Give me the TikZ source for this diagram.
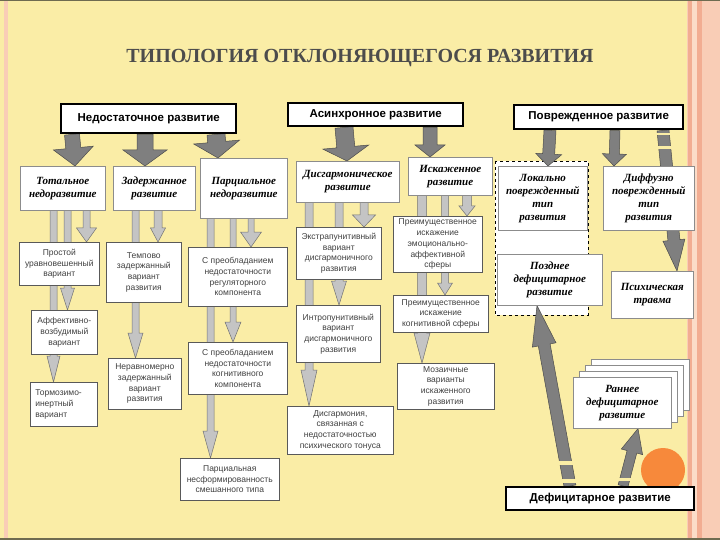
\documentclass[tikz,border=0pt]{standalone}
\usepackage{fontspec}
\setmainfont{Liberation Serif}
\newfontfamily\sansf{Liberation Sans}
\usetikzlibrary{calc}
\definecolor{bg}{HTML}{FAEDA6}
\definecolor{pinkA}{HTML}{F9CDB6}
\definecolor{pinkB}{HTML}{F2AD92}
\definecolor{pinkC}{HTML}{FBDCC8}
\definecolor{frame}{HTML}{6E6B50}
\definecolor{darkarr}{HTML}{7F7F7F}
\definecolor{lightarr}{HTML}{C4C4C4}
\definecolor{orangec}{HTML}{F7893B}
\newcommand\blockarr[6]{%
  \coordinate (ba-s) at (#2);
  \coordinate (ba-e) at (#3);
  \coordinate (ba-c) at ($(ba-e)!#6!(ba-s)$);
  \path[#1] ($(ba-s)!#4!90:(ba-e)$) -- ($(ba-c)!#4!90:(ba-e)$) -- ($(ba-c)!#5!90:(ba-e)$)
    -- (ba-e) -- ($(ba-c)!#5!-90:(ba-e)$) -- ($(ba-c)!#4!-90:(ba-e)$) -- ($(ba-s)!#4!-90:(ba-e)$) -- cycle;
}
\tikzset{
  darr/.style={fill=darkarr, draw=black!70, line width=0.5pt},
  larr/.style={fill=lightarr, draw=black!55, line width=0.5pt},
  headbox/.style={draw=black, line width=2.4pt, fill=white, anchor=north west, inner sep=0pt,
    font=\sansf\bfseries\fontsize{11.5}{13}\selectfont},
  midbox/.style={draw=black!45, line width=0.6pt, fill=white, anchor=north west, inner sep=0pt,
    align=center, font=\bfseries\itshape\fontsize{11}{13}\selectfont},
  lowbox/.style={draw=black!65, line width=0.6pt, fill=white, anchor=north west, inner sep=0pt,
    align=center, text=black!75, font=\sansf\fontsize{8.5}{10.7}\selectfont},
  sheet/.style={draw=black!45, line width=0.6pt, fill=white},
  ghost/.style={draw=none, fill=none}
}
\begin{document}
\begin{tikzpicture}[x=1pt,y=-1pt]
% background and frame
\fill[bg] (0,0) rectangle (720,540);
\useasboundingbox (0,0) rectangle (720,540);
\fill[pinkA] (4,0) rectangle (8,540);
\fill[pinkA] (687,0) rectangle (720,540);
\fill[pinkB] (688,0) rectangle (692,540);
\fill[pinkC] (692,0) rectangle (697,540);
\fill[pinkB] (697,0) rectangle (702,540);
\fill[frame] (0,0) rectangle (720,1.5);
\fill[frame] (0,537.5) rectangle (720,540);
% title
\node[text=black!70, font=\bfseries\fontsize{20}{24}\selectfont] (title) at (360,58)
  {ТИПОЛОГИЯ ОТКЛОНЯЮЩЕГОСЯ РАЗВИТИЯ};
% orange circle
\fill[orangec] (663,470) circle (22);
% dashed group box
\draw[dashed, black, line width=0.6pt, fill=white] (495,161) rectangle (588,315);

% ---- node frames (named, invisible) used as connector ends ----
\path
 (60,103) node[headbox, ghost, minimum width=175pt, minimum height=29pt] (ned) {}
 (287,102) node[headbox, ghost, minimum width=175pt, minimum height=23pt] (asy) {}
 (513,104) node[headbox, ghost, minimum width=169pt, minimum height=24pt] (pov) {}
 (505,486) node[headbox, ghost, minimum width=188pt, minimum height=23pt] (def) {};
\path
 (20,166) node[midbox, ghost, minimum width=85pt, minimum height=44pt] (tot) {}
 (113,166) node[midbox, ghost, minimum width=82pt, minimum height=44pt] (zad) {}
 (200,158) node[midbox, ghost, minimum width=87pt, minimum height=60pt] (par) {}
 (296,161) node[midbox, ghost, minimum width=103pt, minimum height=41pt] (dis) {}
 (408,157) node[midbox, ghost, minimum width=84pt, minimum height=38pt] (isk) {}
 (498,166) node[midbox, ghost, minimum width=89pt, minimum height=64pt] (lok) {}
 (603,166) node[midbox, ghost, minimum width=91pt, minimum height=64pt] (dif) {}
 (497,254) node[midbox, ghost, minimum width=105pt, minimum height=51pt] (poz) {}
 (611,271) node[midbox, ghost, minimum width=82pt, minimum height=47pt] (psy) {}
 (573,377) node[midbox, ghost, minimum width=98pt, minimum height=51pt] (ran) {};
\path
 (19,242) node[lowbox, ghost, minimum width=80pt, minimum height=43pt] (pro) {}
 (31,310) node[lowbox, ghost, minimum width=66pt, minimum height=44pt] (aff) {}
 (30,382) node[lowbox, ghost, minimum width=67pt, minimum height=44pt] (tor) {}
 (106,242) node[lowbox, ghost, minimum width=75pt, minimum height=60pt] (tem) {}
 (108,358) node[lowbox, ghost, minimum width=73pt, minimum height=51pt] (ner) {}
 (188,247) node[lowbox, ghost, minimum width=99pt, minimum height=59pt] (reg) {}
 (188,342) node[lowbox, ghost, minimum width=99pt, minimum height=52pt] (kog) {}
 (180,458) node[lowbox, ghost, minimum width=99pt, minimum height=42pt] (pns) {}
 (296,227) node[lowbox, ghost, minimum width=85pt, minimum height=52pt] (ext) {}
 (296,305) node[lowbox, ghost, minimum width=84pt, minimum height=57pt] (intr) {}
 (287,406) node[lowbox, ghost, minimum width=106pt, minimum height=48pt] (dton) {}
 (393,216) node[lowbox, ghost, minimum width=89pt, minimum height=56pt] (emo) {}
 (393,295) node[lowbox, ghost, minimum width=95pt, minimum height=37pt] (kogs) {}
 (397,363) node[lowbox, ghost, minimum width=97pt, minimum height=46pt] (moz) {};

% ---- dark block arrows ----
\blockarr{darr}{[xshift=12pt]ned.south west}{[xshift=55pt]tot.north west}{7.5pt}{20pt}{18pt}
\blockarr{darr}{[xshift=85pt]ned.south west}{[xshift=32pt]zad.north west}{8pt}{22pt}{16pt}
\blockarr{darr}{[xshift=156pt]ned.south west}{[xshift=18pt]par.north west}{9pt}{23pt}{16pt}
\blockarr{darr}{[xshift=57pt]asy.south west}{[xshift=51pt]dis.north west}{9pt}{23pt}{14pt}
\blockarr{darr}{[xshift=143pt]asy.south west}{[xshift=22pt]isk.north west}{7pt}{15pt}{12pt}
\blockarr{darr}{[xshift=37pt]pov.south west}{[xshift=50pt]lok.north west}{6pt}{13pt}{12pt}
\blockarr{darr}{[xshift=102pt]pov.south west}{[xshift=11pt]dif.north west}{5pt}{12pt}{12pt}
\blockarr{darr}{[xshift=150pt]pov.south west}{[xshift=66pt]psy.north west}{6pt}{11pt}{31pt}
\blockarr{darr}{[xshift=65pt]def.north west}{[xshift=40pt]poz.south west}{6pt}{12pt}{40pt}
\blockarr{darr}{[xshift=118pt]def.north west}{[xshift=65pt]ran.south west}{5pt}{11pt}{24pt}
% breaks in the dark shafts
\fill[bg] (650,133) rectangle (676,135.5);
\fill[bg] (650,146) rectangle (676,149);
\fill[bg] (555,461) rectangle (585,465);
\fill[bg] (555,479) rectangle (585,482.5);
\fill[bg] (610,477.5) rectangle (635,480.5);

% ---- light block arrows ----
\blockarr{larr}{[xshift=33.5pt]tot.south west}{[xshift=23.5pt]tor.north west}{3.5pt}{6.5pt}{26pt}
\blockarr{larr}{[xshift=47.5pt]tot.south west}{[xshift=36.5pt]aff.north west}{3.5pt}{7pt}{22pt}
\blockarr{larr}{[xshift=66.5pt]tot.south west}{[xshift=67.5pt]pro.north west}{3.5pt}{10pt}{14pt}
\blockarr{larr}{[xshift=22.5pt]zad.south west}{[xshift=27.5pt]ner.north west}{3.5pt}{7.5pt}{25pt}
\blockarr{larr}{[xshift=45pt]zad.south west}{[xshift=52pt]tem.north west}{4pt}{7.5pt}{14pt}
\blockarr{larr}{[xshift=10.5pt]par.south west}{[xshift=30.5pt]pns.north west}{3.5pt}{7.5pt}{27pt}
\blockarr{larr}{[xshift=33pt]par.south west}{[xshift=45pt]kog.north west}{3pt}{8pt}{20pt}
\blockarr{larr}{[xshift=51pt]par.south west}{[xshift=63pt]reg.north west}{3pt}{10.5pt}{15pt}
\blockarr{larr}{[xshift=13pt]dis.south west}{[xshift=22pt]dton.north west}{4pt}{8pt}{36pt}
\blockarr{larr}{[xshift=43pt]dis.south west}{[xshift=43pt]intr.north west}{4pt}{7.5pt}{24pt}
\blockarr{larr}{[xshift=68pt]dis.south west}{[xshift=68pt]ext.north west}{4pt}{11.5pt}{12pt}
\blockarr{larr}{[xshift=14pt]isk.south west}{[xshift=25pt]moz.north west}{4.5pt}{8pt}{30pt}
\blockarr{larr}{[xshift=37pt]isk.south west}{[xshift=52pt]kogs.north west}{3.5pt}{7.5pt}{12pt}
\blockarr{larr}{[xshift=59pt]isk.south west}{[xshift=74pt]emo.north west}{4.5pt}{8pt}{10pt}

% ---- boxes drawn on top ----
\node[headbox, minimum width=175pt, minimum height=29pt] at (60,103) {Недостаточное развитие};
\node[headbox, minimum width=175pt, minimum height=23pt] at (287,102) {Асинхронное развитие};
\node[headbox, minimum width=169pt, minimum height=24pt] at (513,104) {Поврежденное развитие};
\node[headbox, minimum width=188pt, minimum height=23pt] at (505,486) {Дефицитарное развитие};

\node[midbox, minimum width=85pt, minimum height=44pt] at (20,166) {Тотальное\\недоразвитие};
\node[midbox, minimum width=82pt, minimum height=44pt] at (113,166) {Задержанное\\развитие};
\node[midbox, minimum width=87pt, minimum height=60pt] at (200,158) {Парциальное\\недоразвитие};
\node[midbox, minimum width=103pt, minimum height=41pt] at (296,161) {Дисгармоническое\\развитие};
\node[midbox, minimum width=84pt, minimum height=38pt] at (408,157) {Искаженное\\развитие};
\node[midbox, minimum width=89pt, minimum height=64pt] at (498,166) {Локально\\поврежденный\\тип\\развития};
\node[midbox, minimum width=91pt, minimum height=64pt] at (603,166) {Диффузно\\поврежденный\\тип\\развития};
\node[midbox, minimum width=105pt, minimum height=51pt] at (497,254) {Позднее\\дефицитарное\\развитие};
\node[midbox, minimum width=82pt, minimum height=47pt] at (611,271) {Психическая\\травма};
\draw[sheet] (591,359) rectangle (689,410);
\draw[sheet] (585,365) rectangle (683,416);
\draw[sheet] (579,371) rectangle (677,422);
\node[midbox, minimum width=98pt, minimum height=51pt] at (573,377) {Раннее\\дефицитарное\\развитие};

\node[lowbox, minimum width=80pt, minimum height=43pt] at (19,242) {Простой\\уравновешенный\\вариант};
\node[lowbox, minimum width=66pt, minimum height=44pt] at (31,310) {Аффективно-\\возбудимый\\вариант};
\node[lowbox, minimum width=67pt, minimum height=44pt, align=left, text width=57pt] at (30,382) {Тормозимо-\\инертный\\вариант};
\node[lowbox, minimum width=75pt, minimum height=60pt] at (106,242) {Темпово\\задержанный\\вариант\\развития};
\node[lowbox, minimum width=73pt, minimum height=51pt] at (108,358) {Неравномерно\\задержанный\\вариант\\развития};
\node[lowbox, minimum width=99pt, minimum height=59pt] at (188,247) {С преобладанием\\недостаточности\\регуляторного\\компонента};
\node[lowbox, minimum width=99pt, minimum height=52pt] at (188,342) {С преобладанием\\недостаточности\\когнитивного\\компонента};
\node[lowbox, minimum width=99pt, minimum height=42pt] at (180,458) {Парциальная\\несформированность\\смешанного типа};
\node[lowbox, minimum width=85pt, minimum height=52pt] at (296,227) {Экстрапунитивный\\вариант\\дисгармоничного\\развития};
\node[lowbox, minimum width=84pt, minimum height=57pt] at (296,305) {Интропунитивный\\вариант\\дисгармоничного\\развития};
\node[lowbox, minimum width=106pt, minimum height=48pt] at (287,406) {Дисгармония,\\связанная с\\недостаточностью\\психического тонуса};
\node[lowbox, minimum width=89pt, minimum height=56pt] at (393,216) {Преимущественное\\искажение\\эмоционально-\\аффективной\\сферы};
\node[lowbox, minimum width=95pt, minimum height=37pt] at (393,295) {Преимущественное\\искажение\\когнитивной сферы};
\node[lowbox, minimum width=97pt, minimum height=46pt] at (397,363) {Мозаичные\\варианты\\искаженного\\развития};
\end{tikzpicture}
\end{document}
